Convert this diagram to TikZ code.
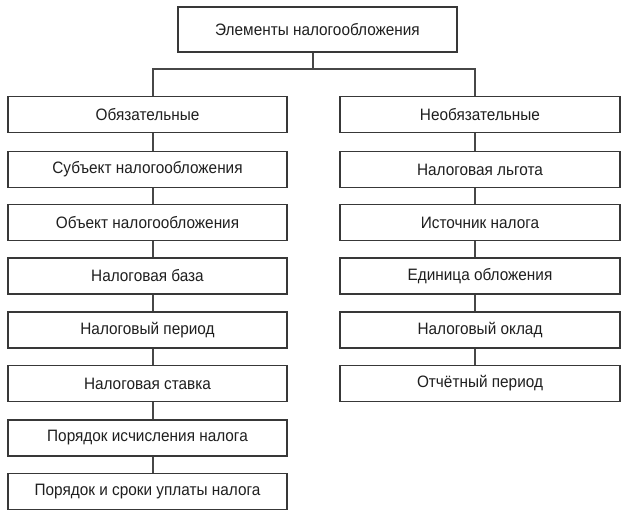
\documentclass[tikz,border=0pt]{standalone}
\usepackage{fontspec}
\setmainfont{Liberation Sans}[FakeStretch=0.93]
\begin{document}
\begin{tikzpicture}[x=1pt,y=-1pt,
  box/.style={draw=black!78, line width=1.4pt, fill=white, minimum height=36pt, inner sep=0pt,
    font=\fontsize{16.5}{18}\selectfont, text=black!88},
  lbox/.style={box, minimum width=279pt},
  rbox/.style={box, minimum width=280pt},
  conn/.style={draw=black!72, line width=1.2pt}]
\useasboundingbox (0,0) rectangle (624,515);
\node[box, minimum width=279pt, minimum height=45pt] (top) at (317.5,29.5) {Элементы налогообложения};
\node[lbox] (L1) at (147.5,114.5) {Обязательные};
\node[lbox] (L2) at (147.5,169.5) {Субъект налогообложения};
\node[lbox] (L3) at (147.5,222.5) {Объект налогообложения};
\node[lbox] (L4) at (147.5,276) {Налоговая база};
\node[lbox] (L5) at (147.5,330) {Налоговый период};
\node[lbox] (L6) at (147.5,383.5) {Налоговая ставка};
\node[lbox] (L7) at (147.5,438) {Порядок исчисления налога};
\node[lbox] (L8) at (147.5,491.5) {Порядок и сроки уплаты налога};
\node[rbox] (R1) at (480,114.5) {Необязательные};
\node[rbox] (R2) at (480,169.5) {Налоговая льгота};
\node[rbox] (R3) at (480,222.5) {Источник налога};
\node[rbox] (R4) at (480,276) {Единица обложения};
\node[rbox] (R5) at (480,330) {Налоговый оклад};
\node[rbox] (R6) at (480,383.5) {Отчётный период};
\coordinate (jl) at (153,69);
\coordinate (jr) at (475,69);
\coordinate (jt) at (313,69);
\draw[conn] (top.south -| jt) -- (jt);
\draw[conn] (L1.north -| jl) -- (jl) -- (jr) -- (R1.north -| jr);
\foreach \a/\b in {1/2,2/3,3/4,4/5,5/6,6/7,7/8}
  \draw[conn] (L\a.south -| jl) -- (L\b.north -| jl);
\foreach \a/\b in {1/2,2/3,3/4,4/5,5/6}
  \draw[conn] (R\a.south -| jr) -- (R\b.north -| jr);
\end{tikzpicture}
\end{document}
